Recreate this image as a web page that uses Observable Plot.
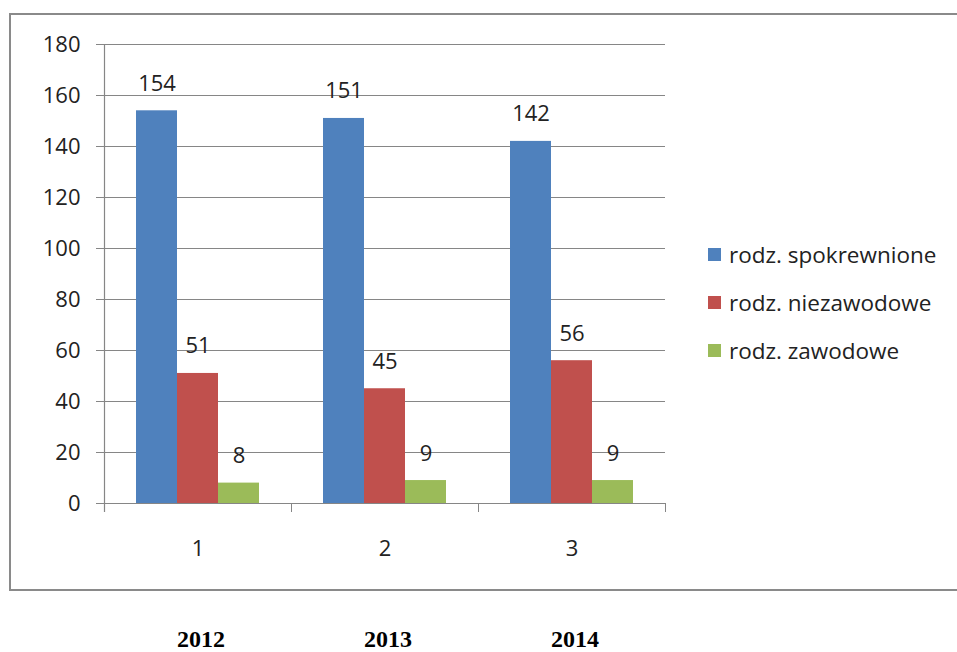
<!DOCTYPE html>
<html>
<head>
<meta charset="utf-8">
<script src="https://cdn.jsdelivr.net/npm/d3@7"></script>
<script src="https://cdn.jsdelivr.net/npm/@observablehq/plot@0.6"></script>
<style>
  html, body { margin: 0; padding: 0; background: #fff; }
  #wrap { position: relative; width: 957px; height: 652px; overflow: hidden; }
  #box { position: absolute; left: 9px; top: 13px; width: 960px; height: 578px; box-sizing: border-box;
         border-left: 2px solid #8a8a8a; border-top: 2px solid #8a8a8a; border-bottom: 2px solid #8a8a8a; pointer-events: none; }
  #chart { position: absolute; left: 0; top: 0; }
  #legend { position: absolute; left: 708px; top: 230px; font-family: "Open Sans", sans-serif; font-size: 22.5px; color: #222; }
  .item { display: flex; align-items: center; height: 48px; }
  .sw { width: 13px; height: 13px; margin-right: 8px; }
</style>
</head>
<body>
<div id="wrap">
  <div id="chart"></div>
  <div id="box"></div>
  <div id="legend"></div>
</div>
<script>
const groups = ["1", "2", "3"];
const years = ["2012", "2013", "2014"];
const series = ["rodz. spokrewnione", "rodz. niezawodowe", "rodz. zawodowe"];
const colors = ["#4F81BD", "#C0504D", "#9BBB59"];
const spokrewnione = [154, 151, 142];
const niezawodowe = [51, 45, 56];
const zawodowe = [8, 9, 9];
const yTicks = [0, 20, 40, 60, 80, 100, 120, 140, 160, 180];

const values = [spokrewnione, niezawodowe, zawodowe];
const data = [];
groups.forEach((g, gi) => series.forEach((s, si) => data.push({group: g, series: s, value: values[si][gi]})));

const gray = "#868686";
const chart = Plot.plot({
  width: 957,
  height: 652,
  marginLeft: 104,
  marginRight: 292,
  marginTop: 44,
  marginBottom: 149,
  style: {fontFamily: "Open Sans, sans-serif", fontSize: "22px", background: "transparent", color: "#222", overflow: "visible"},
  fx: {domain: groups, padding: 0},
  x: {domain: series, paddingInner: 0, paddingOuter: 0.753, axis: null},
  y: {domain: [0, 180]},
  color: {domain: series, range: colors},
  marks: [
    Plot.gridY(yTicks, {stroke: gray, strokeOpacity: 1}),
    Plot.ruleY([0], {stroke: gray}),
    Plot.frame({anchor: "right", stroke: gray, insetTop: 459, insetBottom: -8}),
    Plot.axisY(yTicks, {tickSize: 8, tickPadding: 16, label: null, stroke: gray, fill: "#222", fontSize: 22}),
    Plot.axisFx({anchor: "bottom", tickSize: 0, tickPadding: 37, label: null, fill: "#222", fontSize: 22}),
    Plot.axisFx({anchor: "bottom", tickSize: 0, tickPadding: 126, label: null, fill: "#000", dx: 3,
                 tickFormat: d => years[groups.indexOf(d)],
                 fontFamily: "Liberation Serif, Times New Roman, serif", fontWeight: "bold", fontSize: 24}),
    Plot.barY(data, {fx: "group", x: "series", y: "value", fill: "series"}),
    Plot.text(data, {fx: "group", x: "series", y: "value", text: d => String(d.value),
                     dy: -27, lineAnchor: "middle", fill: "#222", fontSize: 22}),
    Plot.frame({anchor: "left", stroke: gray, strokeWidth: 1.2, insetBottom: -8, facet: "super"})
  ]
});
document.getElementById("chart").appendChild(chart);

const legend = document.getElementById("legend");
series.forEach((s, i) => {
  const it = document.createElement("div");
  it.className = "item";
  const sw = document.createElement("div");
  sw.className = "sw";
  sw.style.background = colors[i];
  const t = document.createElement("span");
  t.textContent = s;
  it.appendChild(sw);
  it.appendChild(t);
  legend.appendChild(it);
});
</script>
</body>
</html>
